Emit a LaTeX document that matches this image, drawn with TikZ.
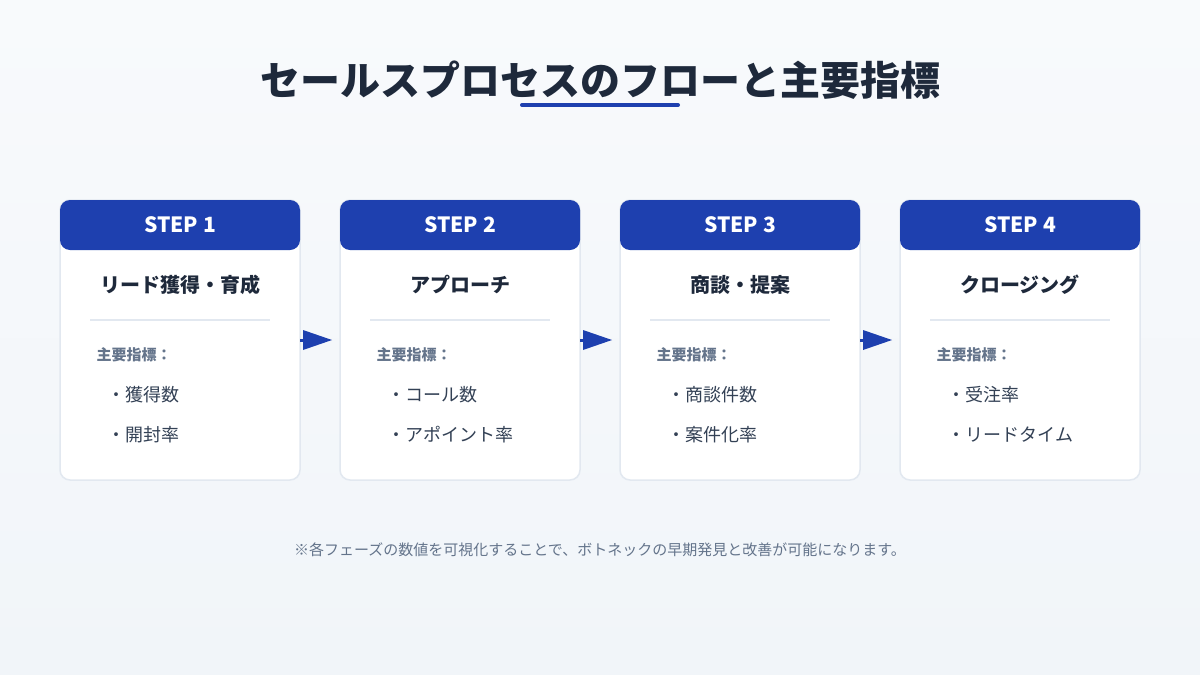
\documentclass[tikz,border=0pt]{standalone}
\usepackage{fontspec}
\setmainfont{Noto Sans CJK JP}
\usetikzlibrary{shapes.geometric}
\definecolor{hdr}{HTML}{1E40AF}
\definecolor{ink}{HTML}{1E293B}
\definecolor{sub}{HTML}{64748B}
\definecolor{txt}{HTML}{334155}
\definecolor{bd}{HTML}{E2E8F0}
\definecolor{bgA}{HTML}{F8FAFC}
\definecolor{bgB}{HTML}{F1F5F9}
\begin{document}
\begin{tikzpicture}[x=1pt,y=-1pt,
  card/.style={draw=bd,line width=1.5pt,fill=white,rounded corners=10pt},
  title/.style={font=\fontsize{20}{24}\selectfont\bfseries,text=ink},
  steplbl/.style={font=\fontsize{21}{24}\selectfont\bfseries,text=white},
  kpi/.style={font=\fontsize{15}{18}\selectfont\bfseries,text=sub,anchor=west},
  item/.style={font=\fontsize{18}{22}\selectfont,text=txt,anchor=west},
  arr/.style={fill=hdr,draw=none}]
\shade[top color=bgA,bottom color=bgB] (0,0) rectangle (1200,675);
\useasboundingbox (0,0) rectangle (1200,675);
\node[font=\fontsize{40}{48}\selectfont\bfseries,text=ink] (T) at (600,80) {セールスプロセスのフローと主要指標};
\draw[hdr,line width=4pt,line cap=round] (522,105) -- (678,105);
\foreach \i/\ttl/\a/\b in {1/リード獲得・育成/獲得数/開封率,2/アプローチ/コール数/アポイント率,3/商談・提案/商談件数/案件化率,4/クロージング/受注率/リードタイム}{
  \pgfmathsetmacro\x{60+280*(\i-1)}
  \draw[card] (\x,200) rectangle ++(240,280);
  \fill[hdr,rounded corners=10pt] (\x,250) -- (\x,200) -- ++(240,0) -- ++(0,50) -- cycle;
  \node[steplbl] (s\i) at (\x+120,225) {STEP \i};
  \node[title] (t\i) at (\x+120,285) {\ttl};
  \draw[bd,line width=1.5pt] (\x+30,320) -- (\x+210,320);
  \node[kpi] (k\i) at (\x+33,355) {主要指標：};
  \node[item] (a\i) at (\x+44,395) {・\a};
  \node[item] (b\i) at (\x+44,435) {・\b};
}
\foreach \i in {1,2,3}{
  \pgfmathsetmacro\x{300+280*(\i-1)}
  \draw[hdr,line width=3pt] (\x,340) -- (\x+8,340);
  \fill[arr] (\x+3,330) -- (\x+32,340) -- (\x+3,350) -- cycle;
}
\node[font=\fontsize{15}{18}\selectfont,text=sub] (F) at (600,550) {※各フェーズの数値を可視化することで、ボトネックの早期発見と改善が可能になります。};
\end{tikzpicture}
\end{document}
